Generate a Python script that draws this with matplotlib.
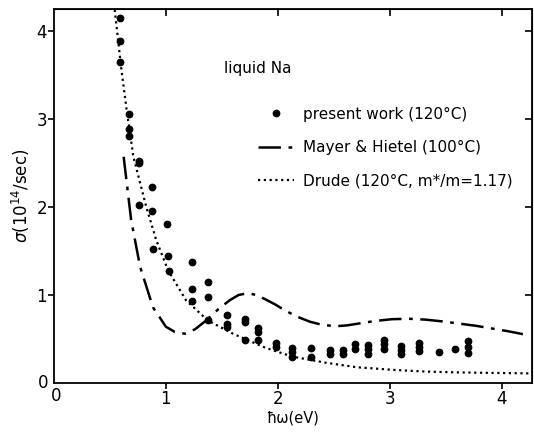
import numpy as np
import matplotlib
matplotlib.use('Agg')
import matplotlib.pyplot as plt
from matplotlib.lines import Line2D

# present work (120 C)
work_x = [0.594, 0.594, 0.594, 0.67, 0.67, 0.67, 0.76, 0.76, 0.88, 0.76, 0.88,
          1.01, 0.885, 1.02, 1.03, 1.235, 1.235, 1.235, 1.375, 1.375, 1.375,
          1.545, 1.545, 1.545, 1.71, 1.71, 1.71, 1.82, 1.82, 1.82,
          1.98, 1.98, 2.125, 2.125, 2.125, 2.295, 2.295, 2.47, 2.47, 2.58, 2.58,
          2.69, 2.69, 2.81, 2.81, 2.81, 2.95, 2.95, 2.95, 3.10, 3.10, 3.10,
          3.26, 3.26, 3.26, 3.44, 3.585, 3.70, 3.70, 3.70]
work_y = [4.15, 3.89, 3.65, 3.06, 2.89, 2.81, 2.52, 2.50, 2.23, 2.02, 1.95,
          1.81, 1.52, 1.44, 1.27, 1.38, 1.07, 0.93, 1.15, 0.98, 0.72,
          0.77, 0.675, 0.64, 0.73, 0.69, 0.485, 0.62, 0.58, 0.49,
          0.45, 0.41, 0.40, 0.35, 0.30, 0.40, 0.30, 0.37, 0.33, 0.38, 0.33,
          0.44, 0.39, 0.43, 0.39, 0.33, 0.485, 0.44, 0.39, 0.42, 0.38, 0.33,
          0.455, 0.41, 0.36, 0.35, 0.39, 0.48, 0.41, 0.345]

# Mayer & Hietel (100 C)
mh_x = [0.623, 0.69, 0.77, 0.885, 1.0, 1.08, 1.17, 1.26, 1.36, 1.47, 1.57,
        1.65, 1.73, 1.81, 1.89, 1.98, 2.07, 2.18, 2.29, 2.40, 2.52, 2.62,
        2.72, 2.87, 3.02, 3.17, 3.32, 3.47, 3.62, 3.77, 3.91, 4.05, 4.19]
mh_y = [2.57, 1.85, 1.32, 0.86, 0.64, 0.58, 0.56, 0.61, 0.71, 0.84, 0.94,
        1.0, 1.02, 1.0, 0.95, 0.89, 0.82, 0.75, 0.695, 0.66, 0.645, 0.655,
        0.675, 0.705, 0.725, 0.73, 0.72, 0.70, 0.675, 0.65, 0.62, 0.59, 0.555]

# Drude (120 C, m*/m = 1.17)
dr_x = [0.543, 0.60, 0.65, 0.71, 0.825, 0.915, 1.02, 1.18, 1.375, 1.60,
        1.89, 2.13, 2.43, 2.70, 3.02, 3.32, 3.62, 3.90, 4.21, 4.27]
dr_y = [4.24, 3.59, 3.10, 2.57, 2.0, 1.62, 1.28, 0.94, 0.71, 0.56,
        0.40, 0.30, 0.23, 0.18, 0.15, 0.13, 0.12, 0.115, 0.11, 0.108]

ticks = [1, 2, 3, 4]

fig = plt.figure(figsize=(5.34, 4.32), dpi=100)
ax = fig.add_axes([0.101, 0.1134, 0.895, 0.866])

dashdot = (0, (9, 3, 1.5, 3))
dotted = (0, (1, 1.6))
ax.plot(mh_x, mh_y, color='black', lw=1.8, linestyle=dashdot)
ax.plot(dr_x, dr_y, color='black', lw=1.6, linestyle=dotted)
ax.plot(work_x, work_y, 'o', color='black', markersize=4.6, linestyle='none')

ax.set_xlim(0, 4.27)
ax.set_ylim(0, 4.25)
ax.set_xticks(ticks)
ax.set_yticks(ticks)
ax.tick_params(axis='both', labelsize=12, length=4, width=1.2, pad=1,
               direction='out')
for s in ax.spines.values():
    s.set_linewidth(1.3)

# inward ticks on top and right, no labels
top = ax.secondary_xaxis('top')
top.set_xticks(ticks)
top.tick_params(direction='in', length=5, width=1.2, labeltop=False)
right = ax.secondary_yaxis('right')
right.set_yticks(ticks)
right.tick_params(direction='in', length=5, width=1.2, labelright=False)

# the two zeros at the origin
ax.text(-0.05, 0.0, '0', fontsize=12, ha='right', va='center')
ax.text(0.02, -0.05, '0', fontsize=12, ha='center', va='top')

ax.set_xlabel('ħω(eV)', fontsize=10.5, labelpad=2)
ax.set_ylabel(r'$\sigma$(10$^{14}$/sec)', fontsize=12, labelpad=3)

ax.text(1.52, 3.57, 'liquid Na', fontsize=11, va='center')

handles = [
    Line2D([], [], marker='o', color='black', markersize=4.6, linestyle='none'),
    Line2D([], [], color='black', lw=1.8, linestyle=dashdot),
    Line2D([], [], color='black', lw=1.6, linestyle=dotted),
]
labels = ['present work (120°C)', 'Mayer & Hietel (100°C)',
          'Drude (120°C, m*/m=1.17)']
ax.legend(handles, labels, loc='upper left', bbox_to_anchor=(0.415, 0.755),
          frameon=False, fontsize=11, handlelength=2.3, handletextpad=0.6,
          labelspacing=1.2, borderaxespad=0)

fig.savefig('out.png', dpi=100)
